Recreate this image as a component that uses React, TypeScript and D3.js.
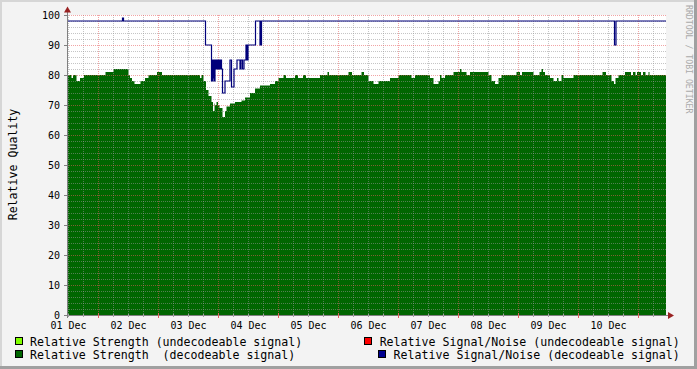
import React, { useEffect } from "react";
import * as d3 from "d3";

const W = 697;
const H = 369;
const T0 = Date.UTC(2009, 11, 1);
const HOUR = 3600e3;
const START_H = -0.6;
const END_H = 239;

// Relative Strength (decodeable signal): change points (hours since 01 Dec 00:00) and values
const strengthHours = [
  -0.6, 1.2, 1.8, 3.2, 4.6, 6.2, 14.8, 18.0, 24.0, 24.6, 25.4, 26.4, 28.8, 30.6, 32.0, 35.4, 37.4,
  52.6, 53.2, 54.0, 55.0, 56.0, 57.2, 57.8, 58.4, 58.6, 59.2, 59.8, 60.4, 61.6, 62.6, 63.2, 64.6,
  66.6, 69.2, 70.6, 72.6, 74.6, 76.6, 80.6, 82.6, 84.0, 86.0, 87.0, 90.6, 91.8, 93.8, 95.0, 100.6,
  103.6, 104.2, 112.0, 113.4, 117.2, 118.2, 120.0, 122.0, 124.0, 128.6, 132.0, 137.2, 138.6, 144.6,
  146.0, 148.0, 148.6, 149.2, 150.6, 154.0, 156.6, 157.2, 159.2, 160.6, 168.0, 169.2, 170.6, 172.0,
  173.2, 179.2, 180.6, 181.4, 186.0, 188.4, 189.2, 189.8, 190.6, 192.6, 194.0, 195.4, 196.0, 197.2,
  198.0, 202.0, 213.6, 215.0, 217.2, 218.2, 218.8, 220.0, 222.6, 225.0, 225.8, 226.8, 227.4, 229.0,
  229.8, 230.8, 232.0, 232.4,
];
const strengthValues = [
  80, 79, 80, 78, 79, 80, 81, 82, 80, 79, 78, 77, 78, 79, 80, 81, 80,
  79, 80, 78, 75, 73, 71, 68, 70.5, 70, 71, 70, 69, 66, 68, 69.5, 70.5,
  71, 71.5, 72.5, 74, 75.5, 76.5, 77, 78, 79, 80, 79, 80, 79, 80, 79, 80,
  81, 80, 81, 80, 81, 80, 78, 77, 78, 79, 80, 79, 80, 79,
  77, 78, 80, 79, 80, 81, 82, 81, 80, 81, 80, 78, 77, 79,
  80, 81, 80, 81, 80, 81, 82, 81, 80, 79, 78, 79, 78, 80,
  79, 80, 81, 80, 78, 77, 79, 80, 81, 80, 81, 80, 81, 80,
  81, 80, 81, 80,
];

// Relative Signal/Noise (decodeable signal): change points and values
const snrHours = [
  -0.6, 21.6, 22.0, 54.8, 57.2, 57.4, 57.6, 57.8, 58.0, 58.2, 58.4, 58.6, 59.0, 59.4, 59.6, 60.0,
  60.4, 60.6, 60.8, 61.0, 61.2, 61.6, 62.6, 64.6, 65.2, 66.2, 67.4, 68.6, 69.0, 69.6, 70.2, 71.0,
  71.2, 71.4, 71.6, 71.8, 74.8, 76.6, 76.8, 77.0, 77.2, 218.4, 219.0,
];
const snrValues = [
  98, 99, 98, 90, 78, 85, 78, 85, 79, 85, 78, 85, 82, 85, 82, 85,
  82, 85, 82, 85, 82, 74, 78, 85, 76, 82, 85, 82, 85, 82, 85, 90,
  85, 90, 85, 90, 98, 90, 98, 90, 98, 90, 98,
];

const yTicks = [0, 10, 20, 30, 40, 50, 60, 70, 80, 90, 100];

const legendLabels = [
  "Relative Strength (undecodeable signal)",
  "Relative Signal/Noise (undecodeable signal)",
  "Relative Strength  (decodeable signal)",
  "Relative Signal/Noise (decodeable signal)",
];
const legendColors = ["#80FF00", "#FF0000", "#006600", "#000090"];

const FONT = "'DejaVu Sans Mono', monospace";

export default function App() {
  useEffect(() => {
    document.body.style.margin = "0";
  }, []);

  const tStart = new Date(T0 + START_H * HOUR);
  const tEnd = new Date(T0 + END_H * HOUR);
  const x = d3.scaleUtc().domain([tStart, tEnd]).range([67, 666]);
  const y = d3.scaleLinear().domain([0, 100]).range([315, 15]);

  const toSeries = (hours: number[], vals: number[]) => {
    const s = hours.map((h, i) => ({ t: new Date(T0 + h * HOUR), v: vals[i] }));
    s.push({ t: tEnd, v: vals[vals.length - 1] });
    return s;
  };
  const strength = toSeries(strengthHours, strengthValues);
  const snr = toSeries(snrHours, snrValues);

  const area = d3
    .area<{ t: Date; v: number }>()
    .curve(d3.curveStepAfter)
    .x((d) => x(d.t))
    .y0(y(0))
    .y1((d) => y(d.v));
  const line = d3
    .line<{ t: Date; v: number }>()
    .curve(d3.curveStepAfter)
    .x((d) => x(d.t))
    .y((d) => y(d.v));

  const sixHours = d3.utcHour.every(6)!.range(tStart, tEnd);
  const minorX = sixHours.filter((d) => d.getUTCHours() !== 12);
  const majorX = sixHours.filter((d) => d.getUTCHours() === 12);
  const days = d3.utcDay.range(tStart, tEnd);
  const fmt = d3.utcFormat("%d %b");

  const minorY = d3.range(2, 100, 2).filter((v) => v % 10 !== 0);
  const majorY = yTicks.filter((v) => v > 0);

  const minorCol = "rgba(150,150,150,0.55)";
  const majorCol = "rgba(230,90,90,0.55)";
  const xl = 67, xr = 666;

  return (
    <svg width={W} height={H} style={{ display: "block" }} xmlns="http://www.w3.org/2000/svg">
      <rect x={0} y={0} width={W} height={H} fill="#F3F3F3" />
      <rect x={0} y={0} width={W} height={2} fill="#D6D6D6" />
      <rect x={0} y={0} width={2} height={H} fill="#D6D6D6" />
      <rect x={W - 3} y={0} width={3} height={H} fill="#A0A0A0" />
      <rect x={0} y={H - 3} width={W} height={3} fill="#A0A0A0" />

      <rect x={xl} y={y(100)} width={xr - xl} height={y(0) - y(100)} fill="#FFFFFF" />

      <path d={area(strength) || ""} fill="#006600" />

      <g shapeRendering="crispEdges" strokeWidth={1} strokeDasharray="1,1">
        {minorY.map((v) => (
          <line key={"my" + v} x1={xl} x2={xr} y1={Math.round(y(v)) + 0.5} y2={Math.round(y(v)) + 0.5} stroke={minorCol} />
        ))}
        {minorX.map((d, i) => (
          <line key={"mx" + i} x1={Math.floor(x(d)) + 0.5} x2={Math.floor(x(d)) + 0.5} y1={y(100)} y2={y(0)} stroke={minorCol} />
        ))}
        {majorY.map((v) => (
          <line key={"My" + v} x1={xl} x2={xr} y1={Math.round(y(v)) + 0.5} y2={Math.round(y(v)) + 0.5} stroke={majorCol} />
        ))}
        {majorX.map((d, i) => (
          <line key={"Mx" + i} x1={Math.floor(x(d)) + 0.5} x2={Math.floor(x(d)) + 0.5} y1={y(100)} y2={y(0)} stroke={majorCol} />
        ))}
      </g>

      <path d={line(snr) || ""} fill="none" stroke="#00007A" strokeWidth={1.2} />

      {/* axes */}
      <g shapeRendering="crispEdges">
        <line x1={64} x2={669} y1={315.5} y2={315.5} stroke="#808080" />
        <line x1={67.5} x2={67.5} y1={318} y2={11} stroke="#808080" />
        {yTicks.map((v) => (
          <line key={"yt" + v} x1={64} x2={67} y1={Math.round(y(v)) + 0.5} y2={Math.round(y(v)) + 0.5} stroke="#808080" />
        ))}
        {majorX.map((d, i) => (
          <line key={"xt" + i} x1={Math.floor(x(d)) + 0.5} x2={Math.floor(x(d)) + 0.5} y1={313} y2={318} stroke="#E06060" />
        ))}
        {minorX.map((d, i) => (
          <line key={"xmt" + i} x1={Math.floor(x(d)) + 0.5} x2={Math.floor(x(d)) + 0.5} y1={314} y2={317} stroke="#A0A0A0" />
        ))}
      </g>
      <path d="M668,312 L674,315.5 L668,319 Z" fill="#992222" />
      <path d="M64,12.5 L67.5,6.5 L71,12.5 Z" fill="#992222" />

      {/* y tick labels */}
      {yTicks.map((v) => (
        <text key={"yl" + v} x={60} y={y(v)} dy="0.36em" textAnchor="end" fontFamily={FONT} fontSize={10} fill="#000">
          {v}
        </text>
      ))}
      {/* x tick labels */}
      {days.map((d, i) => (
        <text key={"xl" + i} x={x(d)} y={328.5} textAnchor="middle" fontFamily={FONT} fontSize={10} fill="#000">
          {fmt(d)}
        </text>
      ))}

      {/* y title */}
      <text transform="translate(16.5,164.5) rotate(-90)" textAnchor="middle" fontFamily={FONT} fontSize={11.6} fill="#000">
        Relative Quality
      </text>

      {/* watermark */}
      <text transform="translate(685.5,5) rotate(90)" textAnchor="start" fontFamily={FONT} fontSize={8.2} fill="#AAAAAA">
        RRDTOOL / TOBI OETIKER
      </text>

      {/* legend */}
      {legendLabels.map((lab, i) => {
        const row = Math.floor(i / 2);
        const right = i % 2 === 1;
        const by = row === 0 ? 337.5 : 350.5;
        const ty = row === 0 ? 345.5 : 358.5;
        const textEnd = 680;
        const w = lab.length * 6.985;
        const tx = right ? textEnd - w : 30;
        const bx = right ? tx - 15 : 15.5;
        return (
          <g key={"lg" + i}>
            <rect x={bx} y={by} width={7} height={7} fill={legendColors[i]} stroke="#000" strokeWidth={1} shapeRendering="crispEdges" />
            <text x={tx} y={ty} fontFamily={FONT} fontSize={11.6} fill="#000" style={{ whiteSpace: "pre" }}>
              {lab}
            </text>
          </g>
        );
      })}
    </svg>
  );
}
